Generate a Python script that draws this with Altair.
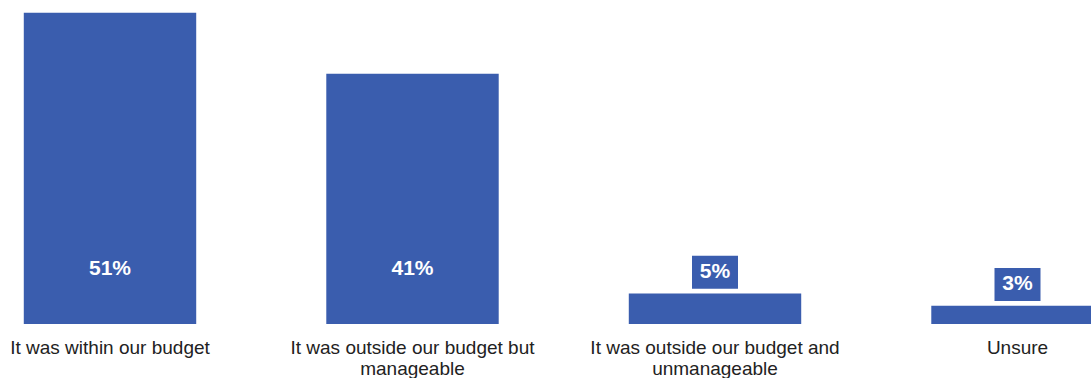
import json
import altair as alt
import pandas as pd

categories = [
    "It was within our budget",
    "It was outside our budget but manageable",
    "It was outside our budget and unmanageable",
    "Unsure",
]
values = [51, 41, 5, 3]
label_lines = [
    ["It was within our budget"],
    ["It was outside our budget but", "manageable"],
    ["It was outside our budget and", "unmanageable"],
    ["Unsure"],
]

df = pd.DataFrame({"cat": categories, "value": values,
                   "label": [f"{v}%" for v in values], "zero": [0] * len(values)})

BLUE = "#3a5dae"
FONT = "Liberation Sans"

lookup = json.dumps({c: l for c, l in zip(categories, label_lines)})
label_expr = f"{lookup}[datum.label]"

xscale = alt.Scale(domain=categories, range=[-41.25, 1168.75],
                   paddingInner=0.43, paddingOuter=0.215)
yscale = alt.Scale(domain=[0, 53.1], nice=False, zero=True)

x = alt.X("cat:N", sort=categories, scale=xscale, title=None,
          axis=alt.Axis(labelAngle=0, labelFont=FONT, labelFontSize=19,
                        labelColor="#222222", labelPadding=14, labelLineHeight=21,
                        labelExpr=label_expr, domain=False, ticks=False, grid=False,
                        labelBaseline="top", labelLimit=400))

base = alt.Chart(df)

bars = base.mark_bar(color=BLUE).encode(
    x=x,
    y=alt.Y("value:Q", scale=yscale, axis=None),
)

inside = base.transform_filter("datum.value >= 10").mark_text(
    color="white", font=FONT, fontSize=21, fontWeight="bold",
    baseline="middle", dy=-55,
).encode(x=alt.X("cat:N", sort=categories, scale=xscale), y=alt.Y("zero:Q", scale=yscale), text="label:N")

boxes = base.transform_filter("datum.value < 10").mark_bar(
    color=BLUE, size=46, yOffset=-37.7, y2Offset=-4.7,
).encode(
    x=alt.X("cat:N", sort=categories, scale=xscale),
    y=alt.Y("value:Q", scale=yscale),
    y2=alt.Y2("value:Q"),
)

outside = base.transform_filter("datum.value < 10").mark_text(
    color="white", font=FONT, fontSize=21, fontWeight="bold",
    baseline="middle", dy=-21.2,
).encode(x=alt.X("cat:N", sort=categories, scale=xscale), y=alt.Y("value:Q", scale=yscale), text="label:N")

chart = alt.layer(bars, boxes, inside, outside).properties(
    width=1091, height=324,
    background="white",
    autosize=alt.AutoSizeParams(type="none"),
    padding={"left": 0, "right": 0, "top": 0, "bottom": 54},
).configure_view(stroke=None, strokeWidth=0)

chart.save("out.html", embed_options={"renderer": "svg", "actions": False})
